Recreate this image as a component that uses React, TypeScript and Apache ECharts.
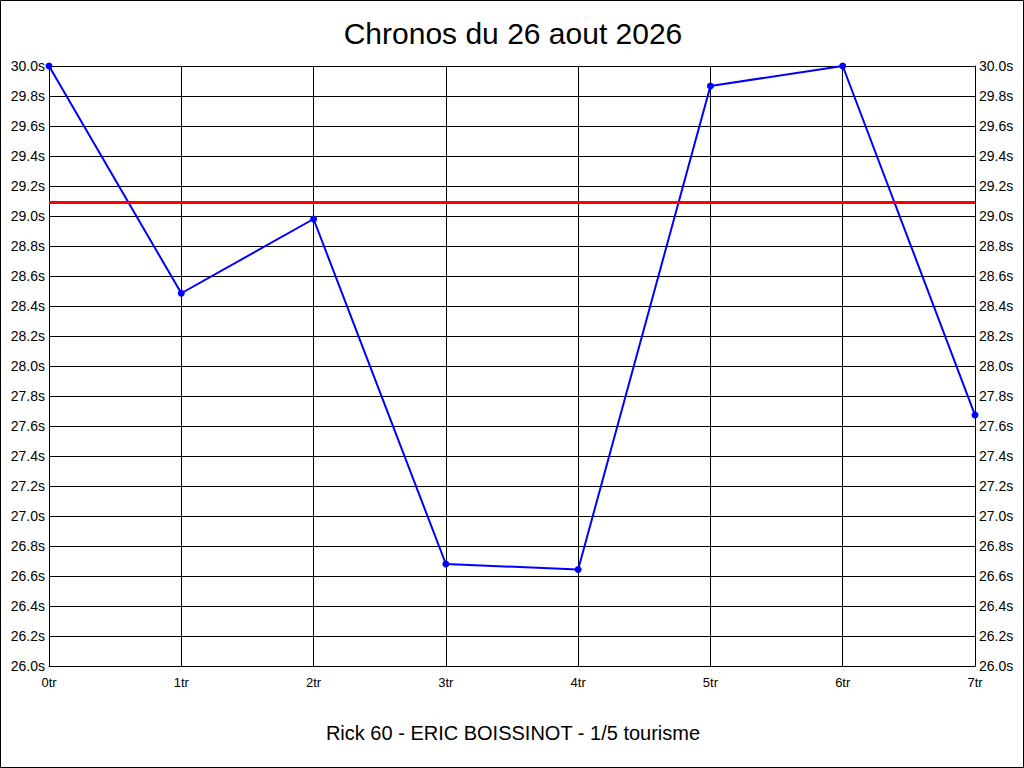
import React, { useEffect, useRef } from "react";
import * as echarts from "echarts";

const categories = ["0tr", "1tr", "2tr", "3tr", "4tr", "5tr", "6tr", "7tr"];
const lapTimes = [30.0, 28.485, 28.98, 26.68, 26.643, 29.867, 30.0, 27.673];
const referenceTime = 29.09;
const titleText = "Chronos du 26 aout 2026";
const subtitleText = "Rick 60 - ERIC BOISSINOT - 1/5 tourisme";
const yMin = 26.0;
const yMax = 30.0;
const yStep = 0.2;

const FONT = "'Liberation Sans', Arial, sans-serif";

export default function App() {
  const ref = useRef<HTMLDivElement>(null);
  useEffect(() => {
    if (!ref.current) return;
    const chart = echarts.init(ref.current, undefined, { renderer: "svg" });
    const yAxisBase = {
      type: "value" as const,
      min: yMin,
      max: yMax,
      interval: yStep,
      axisLine: { show: true, lineStyle: { color: "#000", width: 1 } },
      axisTick: { show: false },
      axisLabel: {
        color: "#000",
        fontSize: 14,
        fontFamily: FONT,
        margin: 4,
        formatter: (v: number) => v.toFixed(1) + "s",
      },
    };
    chart.setOption({
      animation: false,
      backgroundColor: "#fff",
      textStyle: { fontFamily: FONT },
      grid: { left: 49, right: 49, top: 66, bottom: 102, containLabel: false },
      graphic: [
        {
          type: "rect",
          shape: { x: 0.5, y: 0.5, width: 1023, height: 767 },
          style: { fill: "none", stroke: "#000", lineWidth: 1 },
          silent: true,
        },
        {
          type: "text",
          x: 513,
          y: 33,
          style: {
            text: titleText,
            fontSize: 30,
            fontFamily: FONT,
            fill: "#000",
            align: "center",
            verticalAlign: "middle",
          },
        },
        {
          type: "text",
          x: 513,
          y: 733,
          style: {
            text: subtitleText,
            fontSize: 20,
            fontFamily: FONT,
            fill: "#000",
            align: "center",
            verticalAlign: "middle",
          },
        },
      ],
      xAxis: {
        type: "category",
        data: categories,
        boundaryGap: false,
        axisLine: { show: true, lineStyle: { color: "#000", width: 1 } },
        axisTick: { show: false },
        axisLabel: { color: "#000", fontSize: 13, fontFamily: FONT, margin: 10 },
        splitLine: { show: true, lineStyle: { color: "#000", width: 1 } },
      },
      yAxis: [
        {
          ...yAxisBase,
          position: "left",
          splitLine: { show: true, lineStyle: { color: "#000", width: 1 } },
        },
        {
          ...yAxisBase,
          position: "right",
          splitLine: { show: false },
        },
      ],
      series: [
        {
          type: "line",
          data: lapTimes,
          yAxisIndex: 0,
          symbol: "circle",
          symbolSize: 7,
          showSymbol: true,
          lineStyle: { color: "#0000ff", width: 2 },
          itemStyle: { color: "#0000ff" },
          markLine: {
            silent: true,
            symbol: "none",
            label: { show: false },
            lineStyle: { color: "#ff0000", width: 3, type: "solid" },
            data: [{ yAxis: referenceTime }],
          },
        },
      ],
    });
    return () => chart.dispose();
  }, []);
  return (
    <div
      ref={ref}
      style={{ position: "absolute", left: 0, top: 0, width: 1024, height: 768 }}
    />
  );
}
